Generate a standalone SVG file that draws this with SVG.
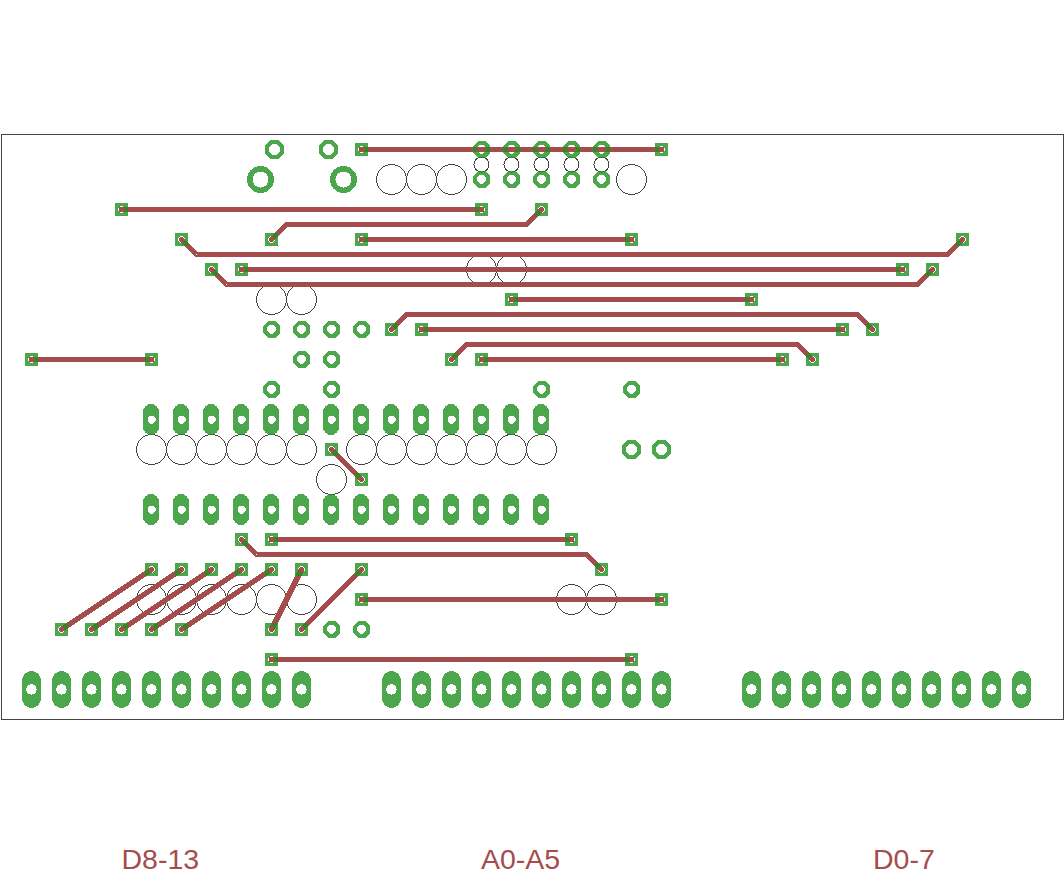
<svg xmlns="http://www.w3.org/2000/svg" width="1064" height="878" viewBox="0 0 1064 878" shape-rendering="crispEdges">
<style>
.pcb{fill:#1f901f;fill-opacity:.8;fill-rule:evenodd;stroke:none}
.t{fill:none;stroke:#a54c4c;stroke-width:5.4;stroke-linecap:round;stroke-linejoin:miter}
.c{fill:none;stroke:#444;stroke-width:1}
.l{font-family:"Liberation Sans",Arial,sans-serif;font-size:28.5px;fill:#a54c4c}
</style>
<defs>
<path id="pad" class="pcb" d="M-6.5-6.5H6.5V6.5H-6.5ZM0-3.3A3.3 3.3 0 1 0 0 3.3A3.3 3.3 0 1 0 0-3.3Z"/>
<path id="ring" class="pcb" d="M-3.5-8.5H3.5L8.5-3.5V3.5L3.5 8.5H-3.5L-8.5 3.5V-3.5ZM-1.8-4.2L-4.2-1.8V1.8L-1.8 4.2H1.8L4.2 1.8V-1.8L1.8-4.2Z"/>
<path id="ringm" class="pcb" d="M-4-9.5H4L9.5-4V4L4 9.5H-4L-9.5 4V-4ZM-2.3-5.1L-5.1-2.3V2.3L-2.3 5.1H2.3L5.1 2.3V-2.3L2.3-5.1Z"/>
<path id="ringl" class="pcb" d="M0-13.5A13.5 13.5 0 1 0 0 13.5A13.5 13.5 0 1 0 0-13.5ZM0-8A8 8 0 1 1 0 8A8 8 0 1 1 0-8Z"/>
<path id="oval" class="pcb" d="M-8.5-7.5A8 8 0 0 1 7.5-7.5V7.5A8 8 0 0 1-8.5 7.5ZM-1.5-4L-4-1.5V1.5L-1.5 4H1.5L4 1.5V-1.5L1.5-4Z"/>
<path id="ovalb" class="pcb" d="M-9.5-9A9.5 9.5 0 0 1 9.5-9V9A9.5 9.5 0 0 1-9.5 9ZM0-5.2A5.2 5.2 0 1 0 0 5.2A5.2 5.2 0 1 0 0-5.2Z"/>
</defs>
<rect width="1064" height="878" fill="#fff"/>
<rect id="board" class="c" x="1.5" y="134.5" width="1062" height="585"/>
<g id="holes">
<circle class="c" cx="391.5" cy="179.5" r="15"/><circle class="c" cx="421.5" cy="179.5" r="15"/><circle class="c" cx="451.5" cy="179.5" r="15"/><circle class="c" cx="631.5" cy="179.5" r="15"/>
<circle class="c" cx="481.5" cy="164.5" r="7.5"/><circle class="c" cx="511.5" cy="164.5" r="7.5"/><circle class="c" cx="541.5" cy="164.5" r="7.5"/><circle class="c" cx="571.5" cy="164.5" r="7.5"/><circle class="c" cx="601.5" cy="164.5" r="7.5"/>
<circle class="c" cx="481.5" cy="269.5" r="15"/><circle class="c" cx="511.5" cy="269.5" r="15"/><circle class="c" cx="271.5" cy="299.5" r="15"/><circle class="c" cx="301.5" cy="299.5" r="15"/>
<circle class="c" cx="151.5" cy="449.5" r="15"/><circle class="c" cx="181.5" cy="449.5" r="15"/><circle class="c" cx="211.5" cy="449.5" r="15"/><circle class="c" cx="241.5" cy="449.5" r="15"/><circle class="c" cx="271.5" cy="449.5" r="15"/><circle class="c" cx="301.5" cy="449.5" r="15"/>
<circle class="c" cx="361.5" cy="449.5" r="15"/><circle class="c" cx="391.5" cy="449.5" r="15"/><circle class="c" cx="421.5" cy="449.5" r="15"/><circle class="c" cx="451.5" cy="449.5" r="15"/><circle class="c" cx="481.5" cy="449.5" r="15"/><circle class="c" cx="511.5" cy="449.5" r="15"/><circle class="c" cx="541.5" cy="449.5" r="15"/>
<circle class="c" cx="331.5" cy="479.5" r="15"/>
<circle class="c" cx="151.5" cy="599.5" r="15"/><circle class="c" cx="181.5" cy="599.5" r="15"/><circle class="c" cx="211.5" cy="599.5" r="15"/><circle class="c" cx="241.5" cy="599.5" r="15"/><circle class="c" cx="271.5" cy="599.5" r="15"/><circle class="c" cx="301.5" cy="599.5" r="15"/><circle class="c" cx="571.5" cy="599.5" r="15"/><circle class="c" cx="601.5" cy="599.5" r="15"/>
</g>
<g id="connectors">
<path class="t" d="M361.5 149.5H661.5"/>
<path class="t" d="M121.5 209.5H481.5"/>
<path class="t" d="M271.5 239.5L286.5 224.5H526.5L541.5 209.5"/>
<path class="t" d="M361.5 239.5H631.5"/>
<path class="t" d="M181.5 239.5L196.5 254.5H947.5L962.5 239.5"/>
<path class="t" d="M241.5 269.5H902.5"/>
<path class="t" d="M211.5 269.5L226.5 284.5H917.5L932.5 269.5"/>
<path class="t" d="M511.5 299.5H751.5"/>
<path class="t" d="M391.5 329.5L406.5 314.5H857.5L872.5 329.5"/>
<path class="t" d="M421.5 329.5H842.5"/>
<path class="t" d="M451.5 359.5L466.5 344.5H797.5L812.5 359.5"/>
<path class="t" d="M481.5 359.5H782.5"/>
<path class="t" d="M31.5 359.5H151.5"/>
<path class="t" d="M331.5 449.5L361.5 479.5"/>
<path class="t" d="M271.5 539.5H571.5"/>
<path class="t" d="M241.5 539.5L256.5 554.5H586.5L601.5 569.5"/>
<path class="t" d="M151.5 569.5L61.5 629.5"/>
<path class="t" d="M181.5 569.5L91.5 629.5"/>
<path class="t" d="M211.5 569.5L121.5 629.5"/>
<path class="t" d="M241.5 569.5L151.5 629.5"/>
<path class="t" d="M271.5 569.5L181.5 629.5"/>
<path class="t" d="M301.5 569.5L271.5 629.5"/>
<path class="t" d="M361.5 569.5L301.5 629.5"/>
<path class="t" d="M361.5 599.5H661.5"/>
<path class="t" d="M271.5 659.5H631.5"/>
</g>
<g id="pads">
<g id="p1"><use href="#pad" x="361.5" y="149.5"/></g><g id="p2"><use href="#pad" x="661.5" y="149.5"/></g>
<g id="p3"><use href="#pad" x="121.5" y="209.5"/></g><g id="p4"><use href="#pad" x="481.5" y="209.5"/></g>
<g id="p5"><use href="#pad" x="271.5" y="239.5"/></g><g id="p6"><use href="#pad" x="541.5" y="209.5"/></g>
<g id="p7"><use href="#pad" x="361.5" y="239.5"/></g><g id="p8"><use href="#pad" x="631.5" y="239.5"/></g>
<g id="p9"><use href="#pad" x="181.5" y="239.5"/></g><g id="p10"><use href="#pad" x="962.5" y="239.5"/></g>
<g id="p11"><use href="#pad" x="241.5" y="269.5"/></g><g id="p12"><use href="#pad" x="902.5" y="269.5"/></g>
<g id="p13"><use href="#pad" x="211.5" y="269.5"/></g><g id="p14"><use href="#pad" x="932.5" y="269.5"/></g>
<g id="p15"><use href="#pad" x="511.5" y="299.5"/></g><g id="p16"><use href="#pad" x="751.5" y="299.5"/></g>
<g id="p17"><use href="#pad" x="391.5" y="329.5"/></g><g id="p18"><use href="#pad" x="872.5" y="329.5"/></g>
<g id="p19"><use href="#pad" x="421.5" y="329.5"/></g><g id="p20"><use href="#pad" x="842.5" y="329.5"/></g>
<g id="p21"><use href="#pad" x="451.5" y="359.5"/></g><g id="p22"><use href="#pad" x="812.5" y="359.5"/></g>
<g id="p23"><use href="#pad" x="481.5" y="359.5"/></g><g id="p24"><use href="#pad" x="782.5" y="359.5"/></g>
<g id="p25"><use href="#pad" x="31.5" y="359.5"/></g><g id="p26"><use href="#pad" x="151.5" y="359.5"/></g>
<g id="p27"><use href="#pad" x="331.5" y="449.5"/></g><g id="p28"><use href="#pad" x="361.5" y="479.5"/></g>
<g id="p29"><use href="#pad" x="271.5" y="539.5"/></g><g id="p30"><use href="#pad" x="571.5" y="539.5"/></g>
<g id="p31"><use href="#pad" x="241.5" y="539.5"/></g><g id="p32"><use href="#pad" x="601.5" y="569.5"/></g>
<g id="p33"><use href="#pad" x="151.5" y="569.5"/></g><g id="p34"><use href="#pad" x="61.5" y="629.5"/></g>
<g id="p35"><use href="#pad" x="181.5" y="569.5"/></g><g id="p36"><use href="#pad" x="91.5" y="629.5"/></g>
<g id="p37"><use href="#pad" x="211.5" y="569.5"/></g><g id="p38"><use href="#pad" x="121.5" y="629.5"/></g>
<g id="p39"><use href="#pad" x="241.5" y="569.5"/></g><g id="p40"><use href="#pad" x="151.5" y="629.5"/></g>
<g id="p41"><use href="#pad" x="271.5" y="569.5"/></g><g id="p42"><use href="#pad" x="181.5" y="629.5"/></g>
<g id="p43"><use href="#pad" x="301.5" y="569.5"/></g><g id="p44"><use href="#pad" x="271.5" y="629.5"/></g>
<g id="p45"><use href="#pad" x="361.5" y="569.5"/></g><g id="p46"><use href="#pad" x="301.5" y="629.5"/></g>
<g id="p47"><use href="#pad" x="361.5" y="599.5"/></g><g id="p48"><use href="#pad" x="661.5" y="599.5"/></g>
<g id="p49"><use href="#pad" x="271.5" y="659.5"/></g><g id="p50"><use href="#pad" x="631.5" y="659.5"/></g>
</g>
<g id="rings">
<g id="r1"><use href="#ringm" x="274.5" y="149.5"/></g><g id="r2"><use href="#ringm" x="328.5" y="149.5"/></g>
<g id="r3"><use href="#ringl" x="260.5" y="179.5"/></g><g id="r4"><use href="#ringl" x="343.5" y="179.5"/></g>
<g id="r5"><use href="#ring" x="481.5" y="149.5"/></g><g id="r6"><use href="#ring" x="511.5" y="149.5"/></g><g id="r7"><use href="#ring" x="541.5" y="149.5"/></g><g id="r8"><use href="#ring" x="571.5" y="149.5"/></g><g id="r9"><use href="#ring" x="601.5" y="149.5"/></g>
<g id="r10"><use href="#ring" x="481.5" y="179.5"/></g><g id="r11"><use href="#ring" x="511.5" y="179.5"/></g><g id="r12"><use href="#ring" x="541.5" y="179.5"/></g><g id="r13"><use href="#ring" x="571.5" y="179.5"/></g><g id="r14"><use href="#ring" x="601.5" y="179.5"/></g>
<g id="r15"><use href="#ring" x="271.5" y="329.5"/></g><g id="r16"><use href="#ring" x="301.5" y="329.5"/></g><g id="r17"><use href="#ring" x="331.5" y="329.5"/></g><g id="r18"><use href="#ring" x="361.5" y="329.5"/></g>
<g id="r19"><use href="#ring" x="301.5" y="359.5"/></g><g id="r20"><use href="#ring" x="331.5" y="359.5"/></g>
<g id="r21"><use href="#ring" x="271.5" y="389.5"/></g><g id="r22"><use href="#ring" x="331.5" y="389.5"/></g><g id="r23"><use href="#ring" x="541.5" y="389.5"/></g><g id="r24"><use href="#ring" x="631.5" y="389.5"/></g>
<g id="r25"><use href="#ringm" x="631.5" y="449.5"/></g><g id="r26"><use href="#ringm" x="661.5" y="449.5"/></g>
<g id="r27"><use href="#ring" x="331.5" y="629.5"/></g><g id="r28"><use href="#ring" x="361.5" y="629.5"/></g>
</g>
<g id="ovals-top">
<g id="a1"><use href="#oval" x="151.5" y="419.5"/></g><g id="a2"><use href="#oval" x="181.5" y="419.5"/></g><g id="a3"><use href="#oval" x="211.5" y="419.5"/></g><g id="a4"><use href="#oval" x="241.5" y="419.5"/></g><g id="a5"><use href="#oval" x="271.5" y="419.5"/></g><g id="a6"><use href="#oval" x="301.5" y="419.5"/></g><g id="a7"><use href="#oval" x="331.5" y="419.5"/></g><g id="a8"><use href="#oval" x="361.5" y="419.5"/></g><g id="a9"><use href="#oval" x="391.5" y="419.5"/></g><g id="a10"><use href="#oval" x="421.5" y="419.5"/></g><g id="a11"><use href="#oval" x="451.5" y="419.5"/></g><g id="a12"><use href="#oval" x="481.5" y="419.5"/></g><g id="a13"><use href="#oval" x="511.5" y="419.5"/></g><g id="a14"><use href="#oval" x="541.5" y="419.5"/></g>
</g>
<g id="ovals-mid">
<g id="b1"><use href="#oval" x="151.5" y="509.5"/></g><g id="b2"><use href="#oval" x="181.5" y="509.5"/></g><g id="b3"><use href="#oval" x="211.5" y="509.5"/></g><g id="b4"><use href="#oval" x="241.5" y="509.5"/></g><g id="b5"><use href="#oval" x="271.5" y="509.5"/></g><g id="b6"><use href="#oval" x="301.5" y="509.5"/></g><g id="b7"><use href="#oval" x="331.5" y="509.5"/></g><g id="b8"><use href="#oval" x="361.5" y="509.5"/></g><g id="b9"><use href="#oval" x="391.5" y="509.5"/></g><g id="b10"><use href="#oval" x="421.5" y="509.5"/></g><g id="b11"><use href="#oval" x="451.5" y="509.5"/></g><g id="b12"><use href="#oval" x="481.5" y="509.5"/></g><g id="b13"><use href="#oval" x="511.5" y="509.5"/></g><g id="b14"><use href="#oval" x="541.5" y="509.5"/></g>
</g>
<g id="headers">
<g id="h1"><use href="#ovalb" x="31.5" y="689.5"/></g><g id="h2"><use href="#ovalb" x="61.5" y="689.5"/></g><g id="h3"><use href="#ovalb" x="91.5" y="689.5"/></g><g id="h4"><use href="#ovalb" x="121.5" y="689.5"/></g><g id="h5"><use href="#ovalb" x="151.5" y="689.5"/></g><g id="h6"><use href="#ovalb" x="181.5" y="689.5"/></g><g id="h7"><use href="#ovalb" x="211.5" y="689.5"/></g><g id="h8"><use href="#ovalb" x="241.5" y="689.5"/></g><g id="h9"><use href="#ovalb" x="271.5" y="689.5"/></g><g id="h10"><use href="#ovalb" x="301.5" y="689.5"/></g>
<g id="h11"><use href="#ovalb" x="391.5" y="689.5"/></g><g id="h12"><use href="#ovalb" x="421.5" y="689.5"/></g><g id="h13"><use href="#ovalb" x="451.5" y="689.5"/></g><g id="h14"><use href="#ovalb" x="481.5" y="689.5"/></g><g id="h15"><use href="#ovalb" x="511.5" y="689.5"/></g><g id="h16"><use href="#ovalb" x="541.5" y="689.5"/></g><g id="h17"><use href="#ovalb" x="571.5" y="689.5"/></g><g id="h18"><use href="#ovalb" x="601.5" y="689.5"/></g><g id="h19"><use href="#ovalb" x="631.5" y="689.5"/></g><g id="h20"><use href="#ovalb" x="661.5" y="689.5"/></g>
<g id="h21"><use href="#ovalb" x="751.5" y="689.5"/></g><g id="h22"><use href="#ovalb" x="781.5" y="689.5"/></g><g id="h23"><use href="#ovalb" x="811.5" y="689.5"/></g><g id="h24"><use href="#ovalb" x="841.5" y="689.5"/></g><g id="h25"><use href="#ovalb" x="871.5" y="689.5"/></g><g id="h26"><use href="#ovalb" x="901.5" y="689.5"/></g><g id="h27"><use href="#ovalb" x="931.5" y="689.5"/></g><g id="h28"><use href="#ovalb" x="961.5" y="689.5"/></g><g id="h29"><use href="#ovalb" x="991.5" y="689.5"/></g><g id="h30"><use href="#ovalb" x="1021.5" y="689.5"/></g>
</g>
<g id="labels">
<text class="l" x="121.5" y="869">D8-13</text>
<text class="l" x="481" y="869">A0-A5</text>
<text class="l" x="873" y="869">D0-7</text>
</g>
</svg>
